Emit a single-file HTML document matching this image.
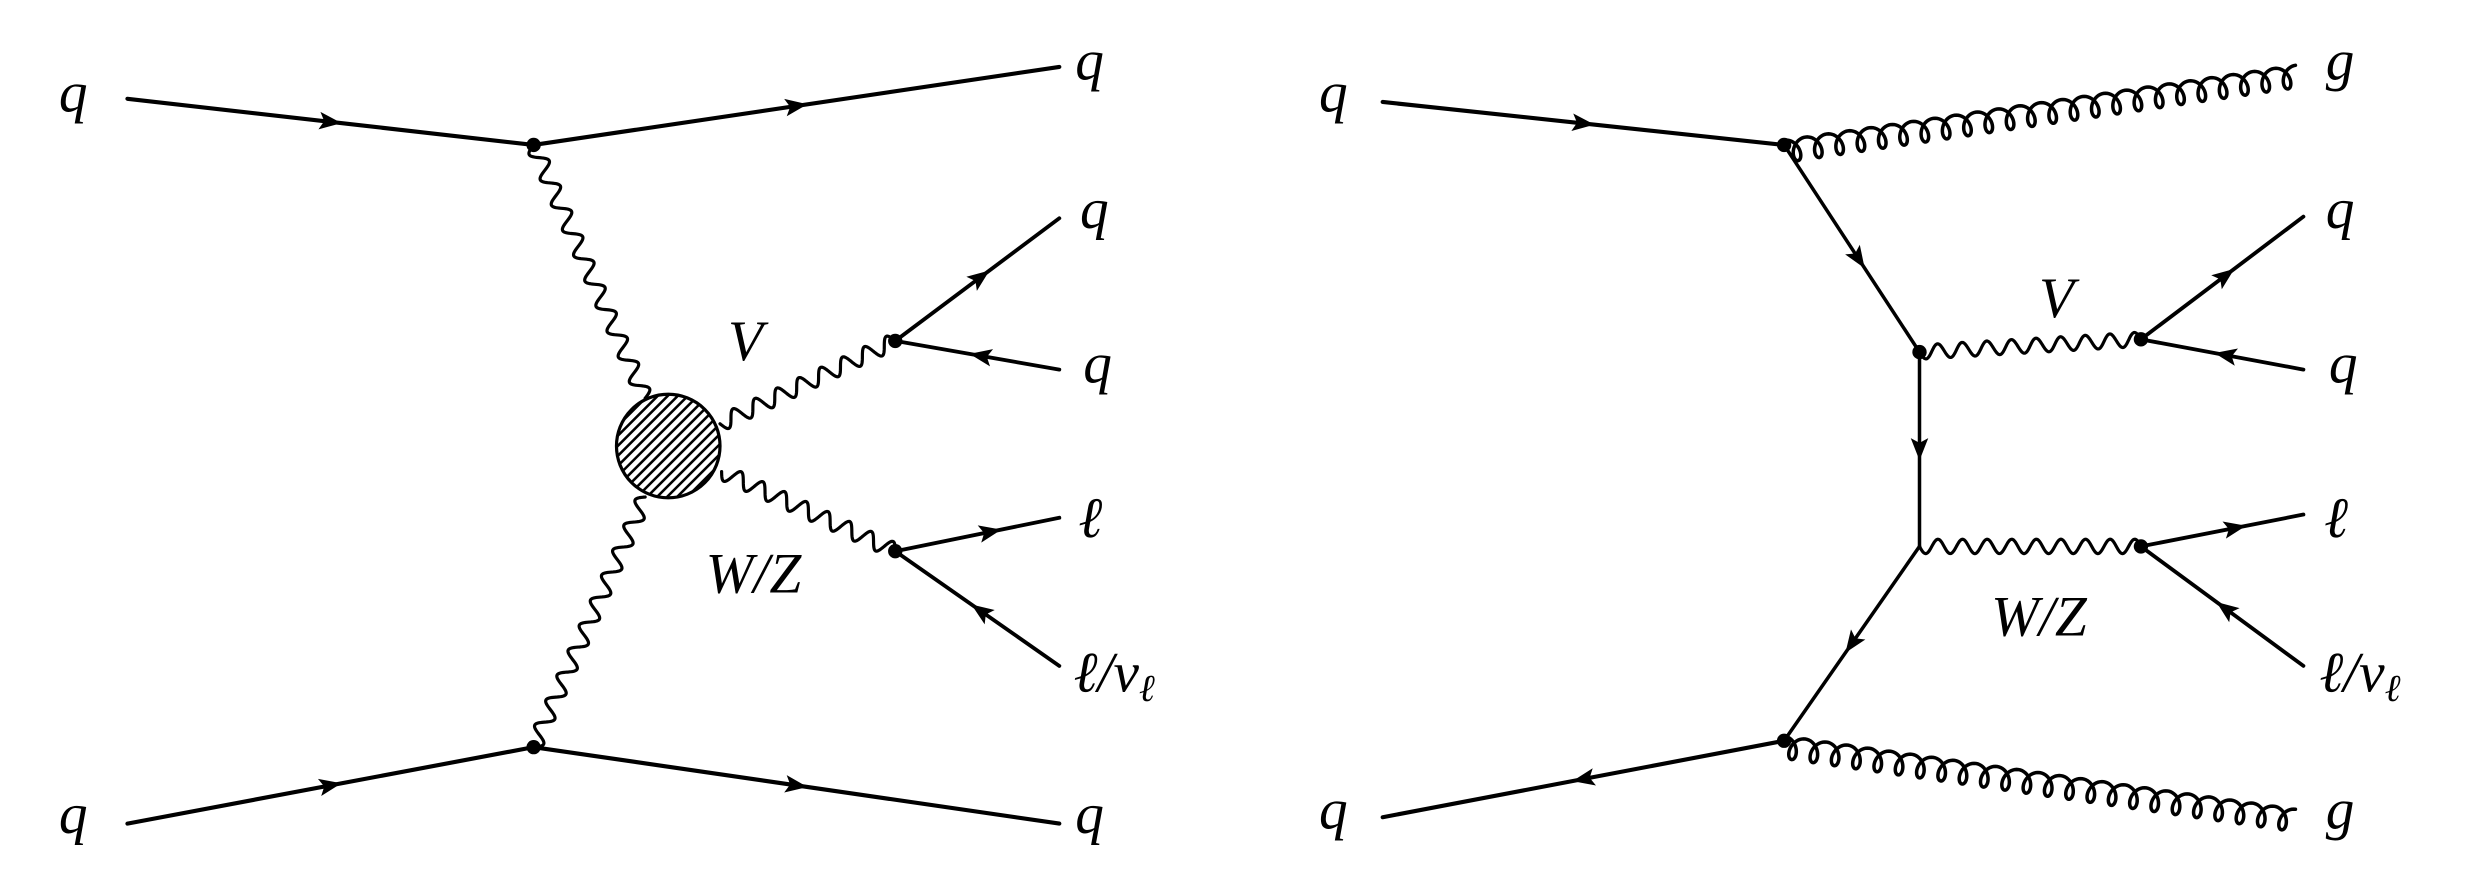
<!DOCTYPE html>
<html><head><meta charset="utf-8">
<style>
html,body{margin:0;padding:0;background:#fff;}
svg{display:block;}
.t text{font-family:"Liberation Serif","Times New Roman","DejaVu Serif",serif;font-style:italic;font-size:36px;fill:#000;}
</style></head>
<body>
<svg id="s" width="2485" height="880" viewBox="0 0 1560 552.4" preserveAspectRatio="none" xmlns="http://www.w3.org/2000/svg">
<defs>
<clipPath id="cb"><circle cx="419.5" cy="280" r="32.5"/></clipPath>
</defs>
<rect width="1560" height="552.4" fill="#fff"/>
<g id="hatch" clip-path="url(#cb)" stroke="#000" stroke-width="1.6"></g>
<circle cx="419.5" cy="280" r="32.5" fill="none" stroke="#000" stroke-width="2"/>
<g id="g" fill="none" stroke="#000" stroke-linecap="round"></g>
<g id="a" fill="#000"></g>
<g class="t" font-family="Liberation Serif, serif" font-style="italic">
<text x="37" y="70">q</text>
<text x="675" y="50">q</text>
<text x="678" y="143">q</text>
<text x="680" y="240">q</text>
<text x="677" y="337">ℓ</text>
<text x="674" y="434">ℓ/ν<tspan font-size="24" dy="6">ℓ</tspan></text>
<text x="37" y="523">q</text>
<text x="675" y="523">q</text>
<text x="457" y="226">V</text>
<text x="443" y="372">W/Z</text>
<text x="828" y="70">q</text>
<text x="1460" y="50">g</text>
<text x="1460" y="143">q</text>
<text x="1462" y="240">q</text>
<text x="1459" y="337">ℓ</text>
<text x="1456" y="434">ℓ/ν<tspan font-size="24" dy="6">ℓ</tspan></text>
<text x="828" y="520">q</text>
<text x="1460" y="520">g</text>
<text x="1280" y="199">V</text>
<text x="1250" y="399">W/Z</text>
</g>
</svg>
<script>
var NS="http://www.w3.org/2000/svg";
var G=document.getElementById('g'),A=document.getElementById('a'),H=document.getElementById('hatch');
function el(t,at,p){var e=document.createElementNS(NS,t);for(var k in at)e.setAttribute(k,at[k]);p.appendChild(e);return e;}
function line(x1,y1,x2,y2,w){el('line',{x1:x1,y1:y1,x2:x2,y2:y2,'stroke-width':w||2.6},G);}
function arrow(x1,y1,x2,y2,t,w){line(x1,y1,x2,y2,w);t=t||0.5;
 var dx=x2-x1,dy=y2-y1,L=Math.hypot(dx,dy),ux=dx/L,uy=dy/L,px=-uy,py=ux;
 var cx=x1+dx*t,cy=y1+dy*t,l=14,h=5.5;
 var tx=cx+ux*l/2,ty=cy+uy*l/2,bx=cx-ux*l/2,by=cy-uy*l/2;
 el('polygon',{points:tx+','+ty+' '+(bx+px*h)+','+(by+py*h)+' '+(bx+ux*3)+','+(by+uy*3)+' '+(bx-px*h)+','+(by-py*h)},A);}
function dot(x,y){el('circle',{cx:x,cy:y,r:4.5},A);}
function wave(x1,y1,x2,y2,n,amp){var dx=x2-x1,dy=y2-y1,L=Math.hypot(dx,dy),ux=dx/L,uy=dy/L,px=-uy,py=ux,d='';
 var N=400;for(var i=0;i<=N;i++){var t=i/N,s=t*L,o=amp*Math.sin(2*Math.PI*n*t);
 d+=(i?'L':'M')+(x1+ux*s+px*o).toFixed(2)+','+(y1+uy*s+py*o).toFixed(2);}
 el('path',{d:d,'stroke-width':2},G);}
function gluon(x1,y1,x2,y2,n,r){var dx=x2-x1,dy=y2-y1,L=Math.hypot(dx,dy),ux=dx/L,uy=dy/L,px=-uy,py=ux;
 if(py<0){px=-px;py=-py;}
 var s=(L-0)/n,d='',N=n*40;
 for(var i=0;i<=N;i++){var th=2*Math.PI*n*i/N,al=s*th/(2*Math.PI)+r*0.75*Math.sin(th),pe=r*(1-Math.cos(th));
 al=Math.min(al,L);d+=(i?'L':'M')+(x1+ux*al+px*pe).toFixed(2)+','+(y1+uy*al+py*pe).toFixed(2);}
 el('path',{d:d,'stroke-width':2.2},G);}
for(var k=-120;k<120;k+=6.3){el('line',{x1:419.5+k-60,y1:280+60,x2:419.5+k+60,y2:280-60},H);}
// LEFT
arrow(80,62,335,91,0.5);
arrow(335,91,665,42,0.5);
arrow(80,517,335,469,0.5);
arrow(335,469,665,517,0.5);
wave(335,91,405,250,10,5);
wave(405,312,335,469,10,5);
wave(452,266,562,214,8,5);
wave(453,296,562,346,8,5);
arrow(562,214,665,137,0.52,2.4);
arrow(665,232,562,214,0.48,2.4);
arrow(562,346,665,325,0.58,2.4);
arrow(665,418,562,346,0.48,2.4);
dot(335,91);dot(335,469);dot(562,214);dot(562,346);
// RIGHT (shifted slightly left)
var o=-4;
arrow(872+o,64,1124+o,91,0.5);
arrow(1124+o,91,1209+o,221,0.55,2.2);
arrow(1209+o,221,1209+o,343,0.5,2.2);
arrow(1209+o,343,1124+o,465,0.5,2.2);
arrow(1124+o,465,872+o,513,0.5);
gluon(1124+o,88,1445+o,41,24,7);
gluon(1124+o,462,1445+o,508,24,7);
wave(1209+o,221,1348+o,213,9,4.5);
wave(1209+o,343,1348+o,343,9,4.5);
arrow(1348+o,213,1450+o,136,0.52,2.4);
arrow(1450+o,232,1348+o,213,0.48,2.4);
arrow(1348+o,343,1450+o,323,0.58,2.4);
arrow(1450+o,418,1348+o,343,0.48,2.4);
dot(1124+o,91);dot(1124+o,465);dot(1209+o,221);dot(1348+o,213);dot(1348+o,343);
</script>
</body></html>
